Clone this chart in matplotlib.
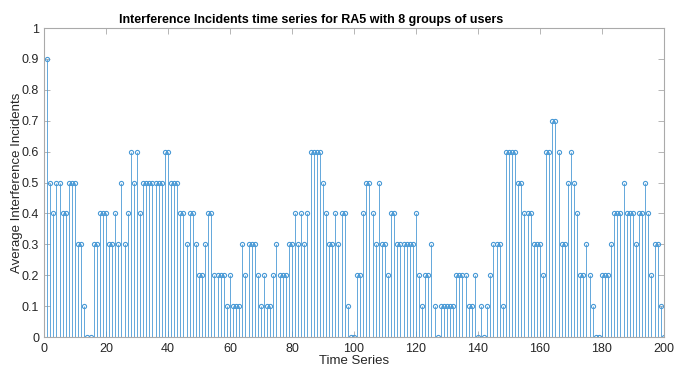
import numpy as np
import matplotlib
matplotlib.use("Agg")
import matplotlib.pyplot as plt

plt.rcParams['font.family'] = ['Liberation Sans', 'DejaVu Sans']

# average interference incidents, samples 1..200
values = [
    0.9, 0.5, 0.4, 0.5, 0.5, 0.4, 0.4, 0.5, 0.5, 0.5,
    0.3, 0.3, 0.1, 0.0, 0.0, 0.3, 0.3, 0.4, 0.4, 0.4,
    0.3, 0.3, 0.4, 0.3, 0.5, 0.3, 0.4, 0.6, 0.5, 0.6,
    0.4, 0.5, 0.5, 0.5, 0.5, 0.5, 0.5, 0.5, 0.6, 0.6,
    0.5, 0.5, 0.5, 0.4, 0.4, 0.3, 0.4, 0.4, 0.3, 0.2,
    0.2, 0.3, 0.4, 0.4, 0.2, 0.2, 0.2, 0.2, 0.1, 0.2,
    0.1, 0.1, 0.1, 0.3, 0.2, 0.3, 0.3, 0.3, 0.2, 0.1,
    0.2, 0.1, 0.1, 0.2, 0.3, 0.2, 0.2, 0.2, 0.3, 0.3,
    0.4, 0.3, 0.4, 0.3, 0.4, 0.6, 0.6, 0.6, 0.6, 0.5,
    0.4, 0.3, 0.3, 0.4, 0.3, 0.4, 0.4, 0.1, 0.0, 0.0,
    0.2, 0.2, 0.4, 0.5, 0.5, 0.4, 0.3, 0.5, 0.3, 0.3,
    0.2, 0.4, 0.4, 0.3, 0.3, 0.3, 0.3, 0.3, 0.3, 0.4,
    0.2, 0.1, 0.2, 0.2, 0.3, 0.1, 0.0, 0.1, 0.1, 0.1,
    0.1, 0.1, 0.2, 0.2, 0.2, 0.2, 0.1, 0.1, 0.2, 0.0,
    0.1, 0.0, 0.1, 0.2, 0.3, 0.3, 0.3, 0.1, 0.6, 0.6,
    0.6, 0.6, 0.5, 0.5, 0.4, 0.4, 0.4, 0.3, 0.3, 0.3,
    0.2, 0.6, 0.6, 0.7, 0.7, 0.6, 0.3, 0.3, 0.5, 0.6,
    0.5, 0.4, 0.2, 0.2, 0.3, 0.2, 0.1, 0.0, 0.0, 0.2,
    0.2, 0.2, 0.3, 0.4, 0.4, 0.4, 0.5, 0.4, 0.4, 0.4,
    0.3, 0.4, 0.4, 0.5, 0.4, 0.2, 0.3, 0.3, 0.1, 0.0,
]
samples = np.arange(1, len(values) + 1)

x_ticks = list(range(0, 201, 20))
y_ticks = [round(0.1 * i, 1) for i in range(11)]
y_labels = ['0', '0.1', '0.2', '0.3', '0.4', '0.5', '0.6', '0.7', '0.8', '0.9', '1']

blue = '#4a9ad6'
grey = '#aaaaaa'
text_col = '#262626'

fig = plt.figure(figsize=(6.74, 3.68), dpi=100)
ax = fig.add_axes([0.0653, 0.0842, 0.9197, 0.8397])

markerline, stemlines, baseline = ax.stem(samples, values)
plt.setp(stemlines, color=blue, linewidth=0.6)
plt.setp(markerline, color=blue, marker='o', markersize=3.0,
         markerfacecolor='none', markeredgewidth=0.8)
baseline.set_visible(False)

ax.set_xlim(0, 200)
ax.set_ylim(0, 1)
ax.set_xticks(x_ticks)
ax.set_yticks(y_ticks)
ax.set_yticklabels(y_labels)

ax.tick_params(direction='in', top=True, right=True, length=4,
               color=grey, labelsize=9, labelcolor=text_col, width=0.6)
ax.tick_params(axis='x', pad=4)
for s in ax.spines.values():
    s.set_color(grey)
    s.set_linewidth(0.8)

ax.set_xlabel('Time Series', fontsize=9.5, color=text_col)
ax.xaxis.set_label_coords(0.5, -0.058)
ax.set_ylabel('Average Interference Incidents', fontsize=9.5, color=text_col)
ax.yaxis.set_label_coords(-0.034, 0.5)

fig.text(311 / 674, 1 - 19.5 / 368,
         'Interference Incidents time series for RA5 with 8 groups of users',
         fontsize=9, fontweight='bold', ha='center', va='center')

fig.savefig('out.png', dpi=100)
